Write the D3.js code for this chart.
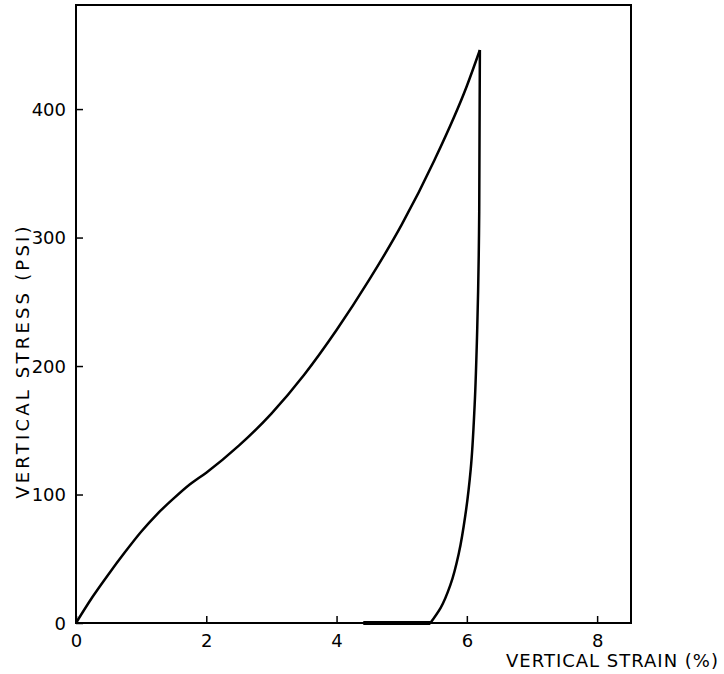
<!DOCTYPE html>
<html>
<head>
    <meta charset="utf-8">
    <title>Vertical stress vs vertical strain</title>
    <script src="https://cdn.jsdelivr.net/npm/d3@7"></script>
    <style>
        body { margin: 0; background: #fff; }
        text { font-family: "DejaVu Sans", sans-serif; fill: #000; }
    </style>
</head>
<body>
    <svg width="724" height="674" id="mainsvg"></svg>
    <script>
        // loading branch: strain (%) vs stress (psi)
        const loadStrain = [0, 0.25, 0.5, 0.75, 1.0, 1.25, 1.5, 1.75, 2.0, 2.5, 3.0, 3.5, 4.0, 4.5, 5.0, 5.5, 6.0, 6.2];
        const loadStress = [0, 20, 38, 55, 71, 85, 97, 108, 117, 138, 163, 193, 228, 267, 310, 360, 418, 446];
        // unloading branch, ends on the zero line
        const unloadStrain = [6.2, 6.19, 6.16, 6.12, 6.06, 5.98, 5.88, 5.75, 5.6, 5.44];
        const unloadStress = [446, 320, 230, 170, 120, 85, 55, 30, 12, 0];
        const residualStrain = [4.41, 5.44];
        const residualStress = [0, 0];
        const xTicks = [0, 2, 4, 6, 8];
        const yTicks = [0, 100, 200, 300, 400];

        const svg = d3.select('svg');
        const margin = { top: 5, right: 93, bottom: 51, left: 76 };
        const innerWidth = 724 - margin.left - margin.right;
        const innerHeight = 674 - margin.top - margin.bottom;
        const g = svg.append('g').attr('transform', `translate(${margin.left}, ${margin.top})`);

        const xScale = d3.scaleLinear().domain([0, 8.52]).range([0, innerWidth]);
        const yScale = d3.scaleLinear().domain([0, 481]).range([innerHeight, 0]);

        // frame
        g.append('rect').attr('x', 0).attr('y', 0)
            .attr('width', innerWidth).attr('height', innerHeight)
            .attr('fill', 'none').attr('stroke', '#000').attr('stroke-width', 2);

        // axes, ticks pointing inward
        const xAxis = d3.axisBottom(xScale).tickValues(xTicks).tickSizeInner(-7).tickSizeOuter(0).tickPadding(11);
        const yAxis = d3.axisLeft(yScale).tickValues(yTicks).tickSizeInner(-7).tickSizeOuter(0).tickPadding(10);
        const xg = g.append('g').attr('transform', `translate(0, ${innerHeight})`).call(xAxis);
        const yg = g.append('g').call(yAxis);
        [xg, yg].forEach(a => {
            a.select('.domain').remove();
            a.selectAll('.tick line').attr('stroke', '#000').attr('stroke-width', 1.5);
            a.selectAll('.tick text').attr('font-size', '18px').attr('fill', '#000')
                .style('font-family', '"DejaVu Sans", sans-serif');
        });
        yg.selectAll('.tick text').attr('dy', '0.35em');

        // axis titles
        svg.append('text').text('VERTICAL STRAIN (%)')
            .attr('x', 719).attr('y', 667).attr('text-anchor', 'end').attr('font-size', '18px')
            .attr('letter-spacing', '1px');
        svg.append('text').text('VERTICAL STRESS (PSI)')
            .attr('transform', 'translate(29, 361) rotate(-90)').attr('text-anchor', 'middle')
            .attr('font-size', '18px').attr('letter-spacing', '3.2px');

        // curves
        const line = d3.line().x(d => xScale(d[0])).y(d => yScale(d[1])).curve(d3.curveMonotoneX);
        const lineU = d3.line().x(d => xScale(d[0])).y(d => yScale(d[1])).curve(d3.curveMonotoneY);
        const zip = (a, b) => a.map((v, i) => [v, b[i]]);

        g.append('path').attr('d', line(zip(loadStrain, loadStress)))
            .attr('fill', 'none').attr('stroke', '#000').attr('stroke-width', 2.5);
        g.append('path').attr('d', lineU(zip(unloadStrain, unloadStress)))
            .attr('fill', 'none').attr('stroke', '#000').attr('stroke-width', 2.5);
        g.append('path').attr('d', d3.line().x(d => xScale(d[0])).y(d => yScale(d[1]))(zip(residualStrain, residualStress)))
            .attr('fill', 'none').attr('stroke', '#000').attr('stroke-width', 4);
    </script>
</body>
</html>
